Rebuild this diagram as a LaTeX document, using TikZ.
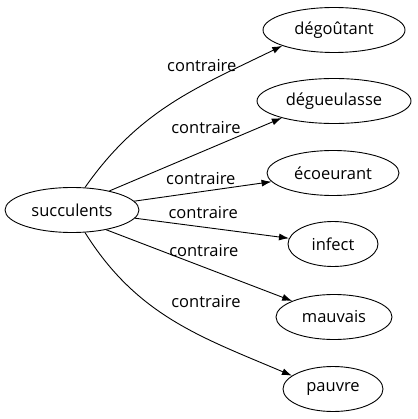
\documentclass[tikz,border=0pt]{standalone}
\usepackage{fontspec}
\setmainfont{Open Sans}
\usetikzlibrary{arrows.meta,shapes.geometric}
\tikzset{
  word/.style={draw, ellipse, inner sep=0pt, minimum height=45pt,
               line width=0.9pt, font=\fontsize{16.5}{18}\selectfont},
  lbl/.style={inner sep=0pt, font=\fontsize{16.5}{18}\selectfont},
  link/.style={-{Latex[length=10pt,width=7pt]}, line width=0.9pt}
}

\begin{document}
\begin{tikzpicture}[x=1pt, y=1pt]
  \useasboundingbox (0,0) rectangle (417,-419);
  \node[word, minimum width=134pt] (succ) at (72,-210) {succulents};
  \node[word, minimum width=142pt] (dego) at (334,-30) {dégoûtant};
  \node[word, minimum width=154pt] (degu) at (334,-101) {dégueulasse};
  \node[word, minimum width=132pt] (ecoe) at (333,-173) {écoeurant};
  \node[word, minimum width=90pt] (infe) at (333,-244) {infect};
  \node[word, minimum width=116pt] (mauv) at (334,-317) {mauvais};
  \node[word, minimum width=100pt] (pauv) at (333,-389) {pauvre};
  \draw[link] (succ.60) to[out=55, in=206]
    node[lbl, pos=0.65, above=14pt] {contraire} (dego.197);
  \draw[link] (succ.27) --
    node[lbl, pos=0.56, above=16pt] {contraire} (degu.198);
  \draw[link] (succ) --
    node[lbl, pos=0.485, above=6.5pt] {contraire} (ecoe);
  \draw[link] (succ) --
    node[lbl, pos=0.443, above=8pt] {contraire} (infe);
  \draw[link] (succ.-30) --
    node[lbl, pos=0.525, above=10.5pt] {contraire} (mauv);
  \draw[link] (succ.-60) to[out=-58, in=157]
    node[lbl, pos=0.65, above=30pt] {contraire} (pauv.162);
\end{tikzpicture}
\end{document}
